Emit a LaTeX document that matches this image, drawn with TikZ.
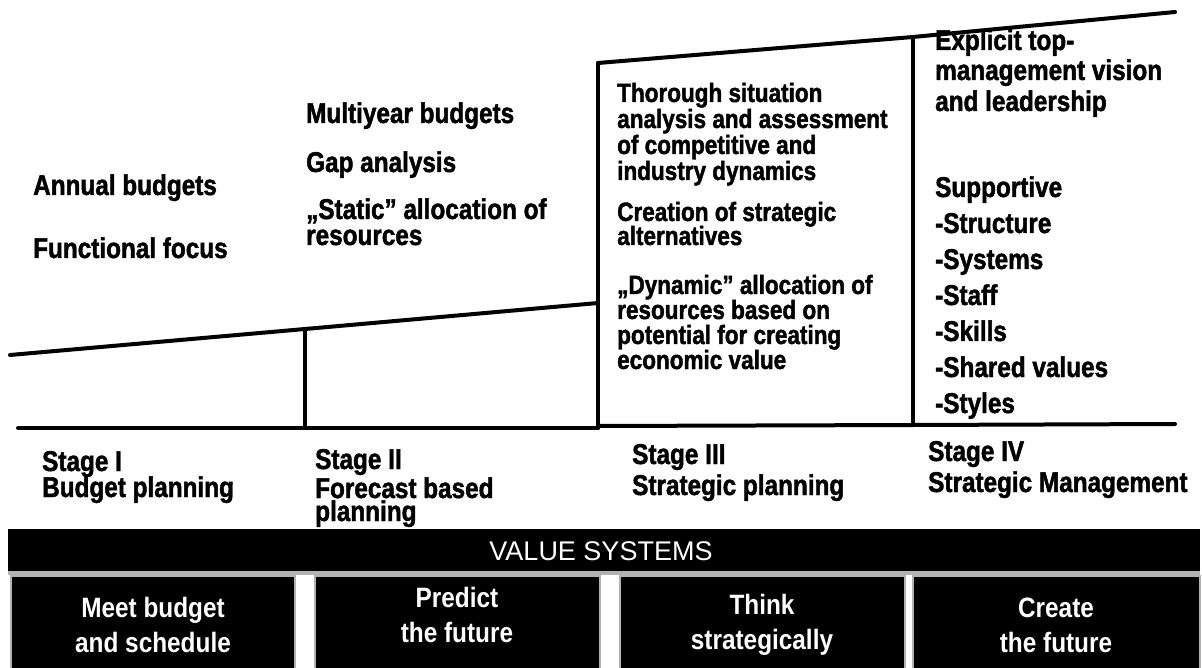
\documentclass[tikz,border=0pt]{standalone}
\usepackage{fontspec}
\newfontfamily\heavysans{Liberation Sans}[FakeStretch=0.85,BoldFeatures={FakeStretch=0.85,FakeBold=1.6}]
\newfontfamily\condsans{Liberation Sans}[FakeStretch=0.87,BoldFeatures={FakeStretch=0.87}]
\newfontfamily\plainsans{Liberation Sans}
\begin{document}
\begin{tikzpicture}[x=1pt,y=-1pt,
  frame/.style={line width=4pt,line cap=round},
  txt/.style={anchor=base west,inner sep=0pt,font=\heavysans\bfseries\fontsize{28.6}{30}\selectfont},
  txtsm/.style={txt,font=\heavysans\bfseries\fontsize{26.5}{28}\selectfont},
  band/.style={fill=black,draw=none},
  valbox/.style={fill=black,draw=gray!60,line width=2pt},
  valtxt/.style={align=center,text=white,inner sep=0pt,font=\condsans\bfseries\fontsize{28}{35}\selectfont},
  bandtxt/.style={text=white,inner sep=0pt,font=\plainsans\fontsize{27}{30}\selectfont}]
\useasboundingbox (0,0) rectangle (1202,668);

% staircase outline
\coordinate (a0) at (10,355);
\coordinate (a1) at (305,329);
\coordinate (a2) at (598,303);
\coordinate (b0) at (598,63);
\coordinate (b1) at (913,37);
\coordinate (b2) at (1175,12);
\coordinate (f1) at (305,428);
\coordinate (f2) at (598,428);
\coordinate (f3) at (913,425);
\coordinate (g0) at (18,428);
\coordinate (g3) at (1175,424);
\draw[frame] (a0) -- (a1) -- (a2);
\draw[frame] (b0) -- (b1) -- (b2);
\draw[frame] (a1) -- (f1);
\draw[frame] (b0) -- (f2);
\draw[frame] (b1) -- (f3);
\draw[frame] (g0) -- (f2);
\draw[frame] (598,426) -- (f3) -- (g3);

% stage I
\node[txt] (s1a) at (33,195) {Annual budgets};
\node[txt] (s1b) at (33,258) {Functional focus};
% stage II
\node[txt] (s2a) at (306,123) {Multiyear budgets};
\node[txt] (s2b) at (306,172) {Gap analysis};
\node[txt] (s2c) at (306,219) {„Static” allocation of};
\node[txt] (s2d) at (306,245) {resources};
% stage III
\node[txtsm] (s3a) at (617,102) {Thorough situation};
\node[txtsm] (s3b) at (617,128) {analysis and assessment};
\node[txtsm] (s3c) at (617,154) {of competitive and};
\node[txtsm] (s3d) at (617,180) {industry dynamics};
\node[txtsm] (s3e) at (617,221) {Creation of strategic};
\node[txtsm] (s3f) at (617,245) {alternatives};
\node[txtsm] (s3g) at (617,294) {„Dynamic” allocation of};
\node[txtsm] (s3h) at (617,319) {resources based on};
\node[txtsm] (s3i) at (617,344) {potential for creating};
\node[txtsm] (s3j) at (617,369) {economic value};
% stage IV
\node[txt] (s4a) at (935,50) {Explicit top-};
\node[txt] (s4b) at (935,80) {management vision};
\node[txt] (s4c) at (935,111) {and leadership};
\node[txt] (s4d) at (935,197) {Supportive};
\node[txt] (s4e) at (935,233) {-Structure};
\node[txt] (s4f) at (935,269) {-Systems};
\node[txt] (s4g) at (935,305) {-Staff};
\node[txt] (s4h) at (935,341) {-Skills};
\node[txt] (s4i) at (935,377) {-Shared values};
\node[txt] (s4j) at (935,413) {-Styles};

% stage labels
\node[txt] (l1a) at (42,471) {Stage I};
\node[txt] (l1b) at (42,497) {Budget planning};
\node[txt] (l2a) at (315,469) {Stage II};
\node[txt] (l2b) at (315,498) {Forecast based};
\node[txt] (l2c) at (315,521) {planning};
\node[txt] (l3a) at (632,464) {Stage III};
\node[txt] (l3b) at (632,495) {Strategic planning};
\node[txt] (l4a) at (928,461) {Stage IV};
\node[txt] (l4b) at (928,492) {Strategic Management};

% value systems band
\fill[band] (8,529) rectangle (1200,571);
\node[bandtxt] (vs) at (601,551) {VALUE SYSTEMS};
\draw[gray!60,line width=4pt] (8,573) -- (1200,573);
\draw[valbox] (11,576) rectangle (295,670);
\draw[valbox] (315,576) rectangle (600,670);
\draw[valbox] (620,576) rectangle (905,670);
\draw[valbox] (913,576) rectangle (1200,670);
\node[valtxt] (v1) at (153,625) {Meet budget\\and schedule};
\node[valtxt] (v2) at (457,615) {Predict\\the future};
\node[valtxt] (v3) at (762,625) {Think\\strategically};
\node[valtxt] (v4) at (1056,625) {Create\\the future};
\end{tikzpicture}
\end{document}
